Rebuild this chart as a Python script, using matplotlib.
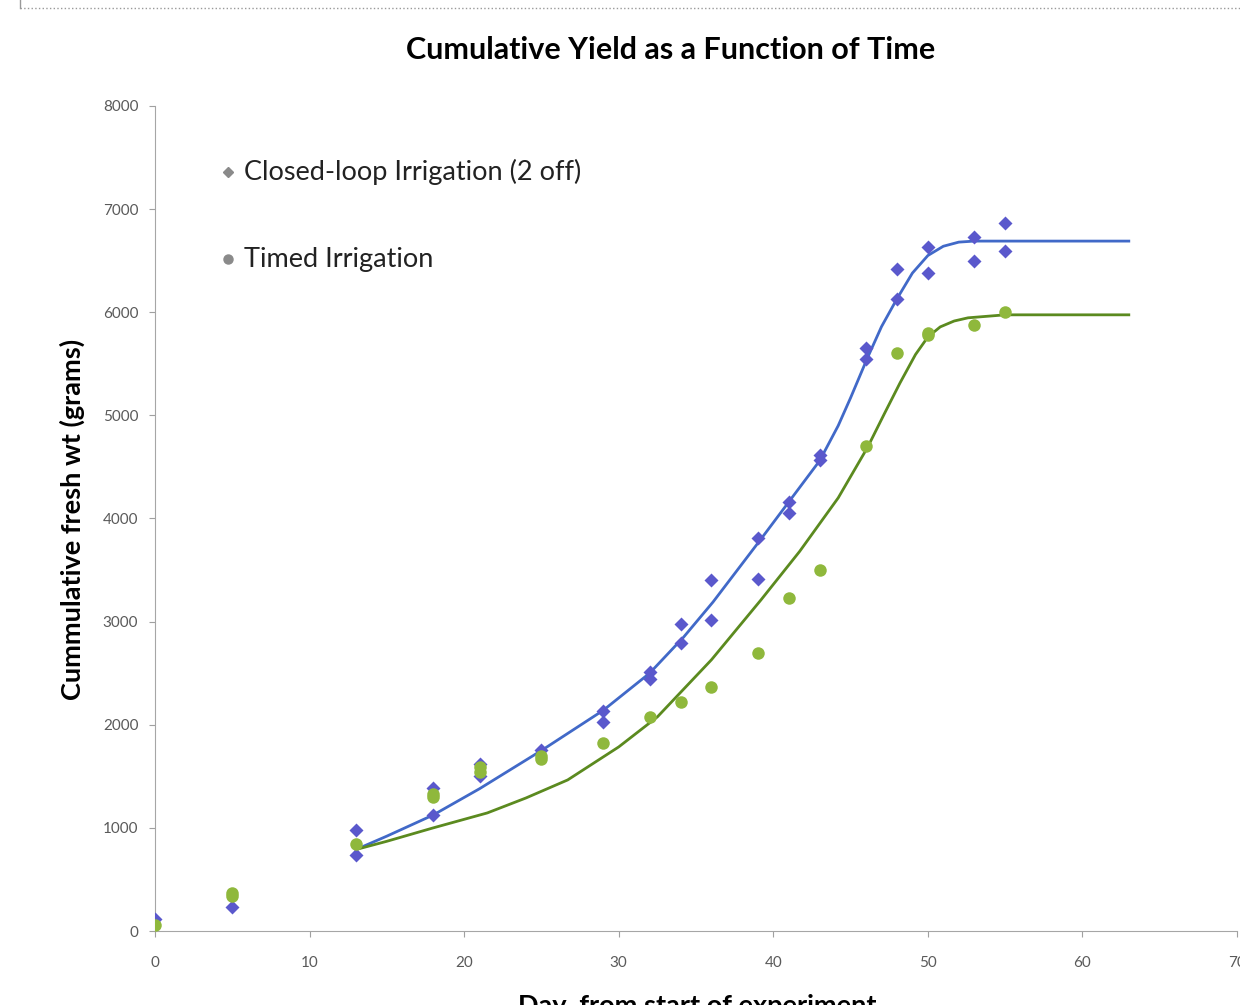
import numpy as np
import matplotlib
matplotlib.use('Agg')
import matplotlib.pyplot as plt
from matplotlib.lines import Line2D

# data
days_closed = [0, 5, 13, 13, 18, 18, 21, 21, 25, 29, 29, 32, 32, 34, 34, 36, 36,
               39, 39, 41, 41, 43, 43, 46, 46, 48, 48, 50, 50, 53, 53, 55, 55]
yield_closed = [120, 230, 980, 740, 1390, 1125, 1620, 1500, 1760, 2130, 2025, 2510, 2440,
                2980, 2790, 3400, 3015, 3810, 3415, 4160, 4050, 4620, 4570, 5650, 5550,
                6420, 6130, 6630, 6385, 6725, 6500, 6870, 6590]

days_timed = [0, 5, 5, 13, 18, 18, 21, 21, 25, 25, 29, 32, 34, 36, 39, 41, 43, 46, 48,
              50, 50, 53, 55]
yield_timed = [60, 370, 340, 840, 1300, 1330, 1590, 1540, 1700, 1670, 1820, 2075, 2220,
               2365, 2700, 3230, 3500, 4700, 5600, 5800, 5780, 5880, 6000]

# fitted trend curves
fit_days_closed = [13, 15, 18, 21, 25, 29, 32, 34.2, 36.1, 39.2, 41.1, 43, 44.2, 45, 46.1,
                   47, 48, 49, 50, 51, 52, 53, 55, 63]
fit_closed = [790, 920, 1125, 1380, 1750, 2140, 2500, 2850, 3190, 3800, 4180, 4560, 4900,
              5170, 5560, 5860, 6130, 6380, 6550, 6640, 6680, 6690, 6690, 6690]

fit_days_timed = [13, 15, 18, 21.5, 24, 26.7, 30, 32.5, 36, 39.2, 41.7, 44.2, 46.1, 47.2,
                  48.2, 49.2, 50, 50.8, 51.7, 52.6, 55, 63]
fit_timed = [790, 870, 1000, 1145, 1290, 1465, 1785, 2076, 2630, 3210, 3680, 4200, 4690,
             5020, 5315, 5590, 5760, 5858, 5915, 5946, 5975, 5975]

xticks = [0, 10, 20, 30, 40, 50, 60, 70]
yticks = [0, 1000, 2000, 3000, 4000, 5000, 6000, 7000, 8000]
legend_labels = ['Closed-loop Irrigation (2 off)', 'Timed Irrigation']

plt.rcParams['font.family'] = ['Lato', 'DejaVu Sans']

W, H = 1240, 1005
fig = plt.figure(figsize=(W/100, H/100), dpi=100)
ax = fig.add_axes([155/W, 1 - 931/H, (1237-155)/W, (931-106)/H])

ax.plot(fit_days_closed, fit_closed, color='#4169c8', lw=2, zorder=3)
ax.plot(fit_days_timed, fit_timed, color='#5b8a1f', lw=2, zorder=3)
ax.plot(days_closed, yield_closed, 'D', color='#5a58cc', ms=7, mec='none', zorder=4)
ax.plot(days_timed, yield_timed, 'o', color='#8fb83c', ms=9, mec='none', zorder=4)

ax.set_xlim(0, 70)
ax.set_ylim(0, 8000)
ax.set_xticks(xticks)
ax.set_yticks(yticks)
ax.tick_params(colors='#a0a0a0', labelcolor='#5a5a5a', labelsize=11, length=4)
ax.tick_params(axis='x', pad=14)
ax.tick_params(axis='y', pad=8)
for s in ['top', 'right']:
    ax.spines[s].set_visible(False)
for s in ['left', 'bottom']:
    ax.spines[s].set_color('#a6a6a6')

fig.text(671/W, 1 - 50/H, 'Cumulative Yield as a Function of Time', ha='center', va='center',
         fontsize=22, fontweight='bold')
fig.text(72/W, 1 - 519/H, 'Cummulative fresh wt (grams)', rotation=90, ha='center',
         va='center', fontsize=19.5, fontweight='bold')
fig.text(697/W, 1 - 1006/H, 'Day, from start of experiment', ha='center', va='center',
         fontsize=19.5, fontweight='bold')

# legend drawn by hand, grey markers like the original
for lab, mk, ms, yy in zip(legend_labels, ['D', 'o'], [5, 6.5], [172, 259]):
    fig.add_artist(Line2D([228/W], [1 - yy/H], marker=mk, color='#8a8a8a', ls='none', ms=ms))
    fig.text(244/W, 1 - yy/H, lab, ha='left', va='center', fontsize=19.5, color='#222222')

# dotted border at the top
fig.add_artist(Line2D([20/W, 1], [1 - 8/H, 1 - 8/H], color='#999999', lw=1, ls=':'))
fig.add_artist(Line2D([20/W, 20/W], [1 - 8/H, 1], color='#999999', lw=1))

plt.savefig('out.png', dpi=100)
